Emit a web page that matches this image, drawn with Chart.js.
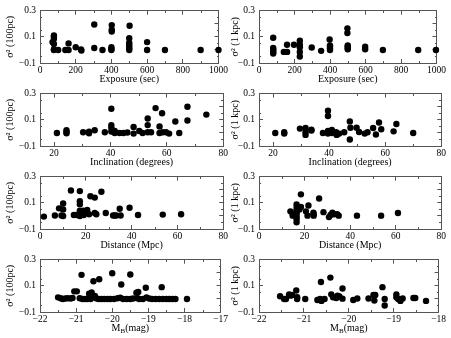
<!DOCTYPE html>
<html>
<head>
<meta charset="utf-8">
<script src="https://cdn.jsdelivr.net/npm/chart.js@4.4.1/dist/chart.umd.min.js"></script>
<style>
  html, body { margin: 0; padding: 0; background: #fff; }
  #wrap { position: relative; width: 451px; height: 338px; overflow: hidden; }
  #wrap canvas { position: absolute; }
  .tk { position: absolute; background: #555; z-index: 5; }
</style>
</head>
<body>
<div id="wrap"></div>
<script>
// tick labels
const sigmaTicks = [-0.1, 0, 0.1, 0.2, 0.3];
const expTicks = [0, 200, 400, 600, 800, 1000];
const incTicks = [20, 40, 60, 80];
const distTicks = [0, 20, 40, 60, 80];
const magTicksLeft = [-22, -21, -20, -19, -18, -17];
const magTicksRight = [-22, -21, -20, -19, -18];

// exposure vs sigma^2 (100pc)
const expLeftX = [70, 78, 78, 78, 78, 78, 78, 102, 142, 160, 160, 200, 230, 232, 304, 304, 350, 402, 402, 402, 400, 400, 400, 502, 500, 500, 500, 500, 500, 500, 600, 600, 700, 900, 1000];
const expLeftY = [0.06, 0.11, 0.10, 0.085, 0.045, 0.003, 0, 0, 0, 0, 0.05, 0.02, 0.003, -0.005, 0.195, 0.015, 0, 0.19, 0.155, 0.14, 0.02, 0.007, 0, 0.185, 0.09, 0.055, 0.04, 0.025, 0.01, 0, 0.06, 0, 0, 0, 0];
// exposure vs sigma^2 (1 kpc)
const expRightX = [80, 80, 80, 80, 80, 80, 140, 158, 158, 197, 230, 230, 230, 230, 230, 297, 350, 398, 400, 400, 400, 400, 498, 498, 500, 500, 500, 500, 598, 598, 698, 897, 997];
const expRightY = [0.093, 0.015, 0.005, -0.005, -0.018, -0.027, -0.015, 0.04, -0.015, 0.04, 0.07, 0.04, 0.02, -0.015, -0.05, 0.018, -0.007, 0.08, 0.035, 0.025, 0.01, 0, 0.165, 0.13, 0.035, 0.025, 0.015, 0.005, 0.025, 0.005, 0, 0, 0];

// inclination
const incLeftX = [21, 24.4, 24.4, 24.4, 30.3, 32.4, 32.4, 34.4, 38, 40.3, 40.3, 40.3, 40.3, 40.6, 41.5, 41.5, 43.2, 44.6, 46, 48.2, 48.2, 50.2, 51.4, 53.2, 53.2, 53.2, 54.4, 56, 57.4, 58.3, 57.4, 58.5, 59.7, 60.8, 64.4, 63, 67.3, 67.3, 74];
const incLeftY = [0, 0.02, 0.008, -0.003, 0.005, 0.01, -0.003, 0.02, 0.005, 0.185, 0.06, 0.04, 0.01, 0.02, 0.015, 0, 0, 0, 0.003, 0.045, -0.005, 0.015, 0, 0.005, 0.11, 0.06, 0.005, 0.19, 0.05, 0.15, 0, 0.005, 0.005, -0.005, 0, 0.087, 0.2, 0.095, 0.14];
const incRightX = [20.8, 24, 24, 29.6, 31.6, 31.6, 31.6, 33.7, 33.7, 37.8, 39.6, 39.6, 39.6, 39.6, 41, 41, 42.5, 42.7, 43.6, 45.4, 47.4, 47.6, 47.4, 49.8, 50.7, 52.7, 53.7, 55.7, 56.7, 57.8, 58.6, 63, 64, 70];
const incRightY = [0, 0.005, -0.005, 0.033, 0.038, 0.005, -0.015, 0.025, 0.018, 0, 0.17, 0.13, 0.015, -0.005, 0.022, 0, 0.005, -0.015, -0.005, 0.005, 0.088, 0.04, -0.05, 0.04, 0.007, -0.005, 0.005, 0.038, -0.012, 0.08, 0.028, 0.012, 0.068, 0];

// distance
const distLeftX = [1.7, 6.5, 8.3, 9.4, 10.1, 10.1, 10.1, 13.5, 14.8, 16, 17.4, 17.4, 17.4, 17.4, 17.4, 17.4, 18.8, 19.1, 20.6, 21.4, 22, 23.9, 23.9, 24.6, 26.8, 28.7, 31.9, 32.6, 33.3, 34.8, 35.2, 39.1, 42.8, 53.6, 61.6];
const distLeftY = [-0.005, 0.003, 0.058, 0.003, 0.095, 0.05, 0, 0.195, 0.007, 0.007, 0.19, 0.112, 0.09, 0.04, 0.018, 0, 0.04, 0.007, 0.045, 0.013, 0.15, 0.14, 0.022, 0.013, 0.185, 0.022, 0.003, 0.003, 0.003, 0.055, 0.003, 0.062, 0.007, 0.01, 0.013];
const distRightX = [13.8, 14.8, 14.8, 16.2, 16.5, 16.5, 16.5, 16.5, 16.5, 16.5, 16.5, 16.5, 17.7, 18.4, 18.4, 20.6, 21.3, 21.7, 23.9, 24, 24, 26.4, 28.3, 30.7, 31.4, 32.2, 32.9, 34.3, 35, 43, 53.6, 61];
const distRightY = [0.035, 0.013, 0.002, 0, 0.088, 0.062, 0.04, 0.029, 0.013, -0.009, -0.026, -0.049, 0.05, 0.165, 0.068, 0.035, 0.002, 0.08, 0.024, 0.013, 0.002, 0.133, 0.029, -0.009, 0.007, 0.024, 0.013, 0.013, 0.002, 0.002, 0.002, 0.022];

// absolute magnitude
const magLeftX = [-21.5, -21.43, -21.37, -21.3, -21.23, -21.15, -21.1, -20.9, -20.82, -20.75, -20.68, -20.6, -20.45, -20.38, -20.3, -20.22, -20.13, -20.05, -19.95, -19.85, -19.78, -19.7, -19.6, -19.5, -19.42, -19.3, -19.25, -19.15, -19.05, -18.98, -18.9, -18.8, -18.7, -18.6, -18.5, -18.42, -18.33, -18.25, -17.93,
  -21.05, -20.98, -20.85, -20.64, -20.57, -20.52, -20.48, -20.36, -20.0, -19.75, -19.5, -19.33, -19.28, -19.07, -18.63];
const magLeftY = [0.012, 0.005, 0, 0.003, 0.005, 0.003, 0.008, 0.005, 0, 0, 0, 0, 0.005, 0, 0, 0, 0, 0, 0, 0.005, 0.01, 0, 0, 0, 0.003, 0.005, 0, 0, 0.012, 0.003, 0, 0, 0, 0, 0, 0, 0, 0, 0,
  0.058, 0.058, 0.184, 0.04, 0.05, 0.135, 0.022, 0.151, 0.196, 0.11, 0.187, 0.047, 0.053, 0.085, 0.09];
const magRightX = [-21.53, -21.44, -21.4, -21.33, -21.3, -21.26, -21.17, -21.15, -21.15, -20.97, -20.7, -20.64, -20.61, -20.62, -20.54, -20.41, -20.39, -20.35, -20.28, -20.25, -20.21, -20.14, -20.14, -19.9, -19.81, -19.56, -19.45, -19.41, -19.43, -19.25, -19.2, -19.2, -18.94, -18.94, -18.9, -18.85, -18.8, -18.56, -18.52, -18.28];
const magRightY = [0.02, 0, 0, 0.035, 0.025, 0.03, 0.065, 0.013, 0, 0, -0.008, 0, -0.015, 0.13, 0, 0.163, 0.035, 0.013, 0.007, 0.025, 0.018, 0.002, 0.08, -0.008, 0.003, 0.003, 0.03, 0.03, -0.013, 0.09, 0, -0.05, 0.035, 0.013, 0, -0.015, 0.003, 0.007, 0.007, -0.015];

const SERIF = '"Liberation Serif", "Times New Roman", serif';
const FRAME = '#555';
Chart.defaults.font.family = SERIF;
Chart.defaults.font.size = 9.5;
Chart.defaults.color = '#000';

function fmt(v) {
  if (Math.abs(v) < 1e-9) return '0';
  const s = Number.isInteger(v) ? String(Math.abs(v)) : Math.abs(v).toFixed(1);
  return (v < 0 ? '\u2212' : '') + s;
}

// minor tick values halfway between the labelled ones
function minorTicks(major, step, min, max) {
  const out = [];
  for (let k = -60; k <= 60; k++) {
    const v = major[0] + k * step;
    if (v < min - step * 0.01 || v > max + step * 0.01) continue;
    if (major.some(m => Math.abs(m - v) < step * 0.01)) continue;
    out.push(v);
  }
  return out;
}

// x axis title, subscript parts drawn smaller and lower
function makeTitle(p) {
  return {
    id: 'xtitle',
    afterDatasetsDraw(chart) {
      const ctx = chart.ctx;
      const a = chart.chartArea;
      const mainFont = '10px ' + SERIF, subFont = '7px ' + SERIF;
      ctx.save();
      let total = 0;
      p.title.forEach(([t, sub]) => {
        ctx.font = sub ? subFont : mainFont;
        total += ctx.measureText(t).width;
      });
      let x = (a.left + a.right) / 2 - total / 2;
      const y = a.bottom + 16;
      ctx.fillStyle = '#000';
      ctx.textBaseline = 'middle';
      ctx.textAlign = 'left';
      p.title.forEach(([t, sub]) => {
        ctx.font = sub ? subFont : mainFont;
        ctx.fillText(t, x, sub ? y + 3 : y);
        x += ctx.measureText(t).width;
      });
      ctx.restore();
    }
  };
}

const wrap = document.getElementById('wrap');

function addTick(left, top, w, h) {
  const d = document.createElement('div');
  d.className = 'tk';
  d.style.left = left + 'px';
  d.style.top = top + 'px';
  d.style.width = w + 'px';
  d.style.height = h + 'px';
  wrap.appendChild(d);
}

// short minor ticks inside the box, placed from the chart's own scales
function addMinorTicks(chart, p, offX, offY) {
  const a = chart.chartArea;
  const xs = chart.scales.x, ys = chart.scales.y;
  const L = Math.round(a.left), R = Math.round(a.right) - 1;
  const T = Math.round(a.top), B = Math.round(a.bottom) - 1;
  minorTicks(p.ticks, p.minor, xs.min, xs.max).forEach(v => {
    const px = Math.round(xs.getPixelForValue(v));
    addTick(offX + px, offY + B - 1, 1, 2);
    addTick(offX + px, offY + T, 1, 2);
  });
  minorTicks(sigmaTicks, 0.05, ys.min, ys.max).forEach(v => {
    const py = Math.round(ys.getPixelForValue(v));
    addTick(offX + L, offY + py, 2, 1);
    addTick(offX + R - 1, offY + py, 2, 1);
  });
}

// inward major tick marks: negative tick length points into the plot
const inwardGrid = { display: true, drawOnChartArea: false, drawTicks: true, tickLength: -4, color: FRAME, lineWidth: 1 };
const frameBorder = { display: true, color: FRAME, width: 1 };

const columns = [
  { left: 0, width: 234, yWidth: 40, titlePad: 4 },
  { left: 224, width: 228, yWidth: 35, titlePad: 5 }
];
const plotTops = [3, 86, 169, 252];

const panels = [
  { xs: expLeftX, ys: expLeftY, ticks: expTicks, min: 0, max: 1000, minor: 100, title: [['Exposure (sec)']], yTitle: 'σ² (100pc)', col: 0, row: 0 },
  { xs: expRightX, ys: expRightY, ticks: expTicks, min: 0, max: 1000, minor: 100, title: [['Exposure (sec)']], yTitle: 'σ² (1 kpc)', col: 1, row: 0 },
  { xs: incLeftX, ys: incLeftY, ticks: incTicks, min: 15, max: 80, minor: 10, title: [['Inclination (degrees)']], yTitle: 'σ² (100pc)', col: 0, row: 1 },
  { xs: incRightX, ys: incRightY, ticks: incTicks, min: 15, max: 80, minor: 10, title: [['Inclination (degrees)']], yTitle: 'σ² (1 kpc)', col: 1, row: 1 },
  { xs: distLeftX, ys: distLeftY, ticks: distTicks, min: 0, max: 80, minor: 10, title: [['Distance (Mpc)']], yTitle: 'σ² (100pc)', col: 0, row: 2 },
  { xs: distRightX, ys: distRightY, ticks: distTicks, min: 0, max: 80, minor: 10, title: [['Distance (Mpc)']], yTitle: 'σ² (1 kpc)', col: 1, row: 2 },
  { xs: magLeftX, ys: magLeftY, ticks: magTicksLeft, min: -22, max: -17, minor: 0.5, title: [['M'], ['B', true], ['(mag)']], yTitle: 'σ² (100pc)', col: 0, row: 3 },
  { xs: magRightX, ys: magRightY, ticks: magTicksRight, min: -22, max: -18, minor: 0.5, title: [['M'], ['B', true], ['(mag)']], yTitle: 'σ² (1 kpc)', col: 1, row: 3 }
];

panels.forEach(p => {
  const c = columns[p.col];
  const top = plotTops[p.row] - 6;
  const canvas = document.createElement('canvas');
  canvas.width = c.width;
  canvas.height = 88;
  canvas.style.left = c.left + 'px';
  canvas.style.top = top + 'px';
  wrap.appendChild(canvas);

  const xMajor = s => { s.ticks = p.ticks.map(v => ({ value: v })); };
  const yMajor = s => { s.ticks = sigmaTicks.map(v => ({ value: v })); };

  const chart = new Chart(canvas.getContext('2d'), {
    type: 'scatter',
    data: {
      datasets: [{
        data: p.xs.map((x, i) => ({ x: x, y: p.ys[i] })),
        backgroundColor: '#000',
        borderWidth: 0,
        pointRadius: 3.2,
        pointHoverRadius: 3.2,
        clip: false
      }]
    },
    options: {
      responsive: false,
      animation: false,
      events: [],
      layout: { padding: { left: 0, right: 10, top: 6, bottom: 0 } },
      plugins: {
        legend: { display: false },
        tooltip: { enabled: false }
      },
      scales: {
        x: {
          type: 'linear',
          position: 'bottom',
          min: p.min,
          max: p.max,
          grid: inwardGrid,
          border: frameBorder,
          afterBuildTicks: xMajor,
          afterFit: s => { s.height = 22; },
          ticks: { padding: 6, maxRotation: 0, autoSkip: false, callback: v => fmt(v) }
        },
        x2: {
          type: 'linear',
          position: 'top',
          min: p.min,
          max: p.max,
          grid: inwardGrid,
          border: frameBorder,
          afterBuildTicks: xMajor,
          afterFit: s => { s.height = 0; },
          ticks: { display: false }
        },
        y: {
          type: 'linear',
          position: 'left',
          min: -0.1,
          max: 0.3,
          grid: inwardGrid,
          border: frameBorder,
          afterBuildTicks: yMajor,
          afterFit: s => { s.width = c.yWidth; },
          ticks: { padding: 8, callback: v => fmt(v) },
          title: {
            display: true,
            text: p.yTitle,
            font: { size: 10 },
            padding: { top: c.titlePad, bottom: 0 }
          }
        },
        y2: {
          type: 'linear',
          position: 'right',
          min: -0.1,
          max: 0.3,
          grid: inwardGrid,
          border: frameBorder,
          afterBuildTicks: yMajor,
          afterFit: s => { s.width = 0; },
          ticks: { display: false }
        }
      }
    },
    plugins: [makeTitle(p)]
  });

  addMinorTicks(chart, p, c.left, top);
});
</script>
</body>
</html>
